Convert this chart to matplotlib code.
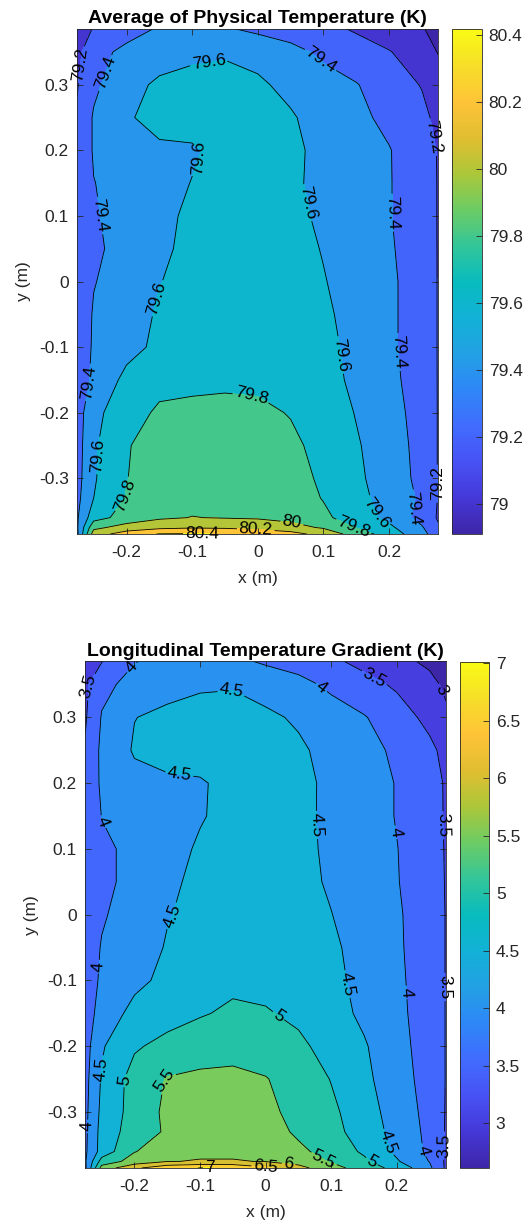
import numpy as np
import matplotlib
matplotlib.use("Agg")
import matplotlib.pyplot as plt
from matplotlib.colors import LinearSegmentedColormap, Normalize
from matplotlib.cm import ScalarMappable

plt.rcParams['font.family'] = ['Liberation Sans', 'DejaVu Sans']

# measurement grid (m)
x_m = [-0.275, -0.25, -0.2, -0.15, -0.1, -0.05, 0.0, 0.05, 0.1, 0.15, 0.2, 0.25, 0.275]
y_m = [-0.385, -0.375, -0.36, -0.33, -0.3, -0.25, -0.2, -0.15, -0.1, -0.05,
       0.0, 0.05, 0.1, 0.15, 0.2, 0.25, 0.3, 0.35, 0.385]

# average physical temperature (K), rows from bottom (y=-0.385) to top
avg_temp = [
    [79.36, 80.10, 80.30, 80.41, 80.415, 80.39, 80.36, 80.28, 80.12, 79.92, 79.70, 79.48, 79.26],
    [79.38, 79.95, 80.08, 80.15, 80.18, 80.17, 80.13, 80.06, 79.98, 79.79, 79.64, 79.42, 79.22],
    [79.38, 79.72, 79.88, 79.97, 80.005, 79.99, 79.98, 79.95, 79.84, 79.70, 79.55, 79.33, 79.18],
    [79.35, 79.60, 79.81, 79.92, 79.94, 79.95, 79.94, 79.90, 79.79, 79.66, 79.52, 79.37, 79.19],
    [79.33, 79.58, 79.795, 79.89, 79.91, 79.92, 79.91, 79.87, 79.77, 79.64, 79.50, 79.35, 79.19],
    [79.32, 79.57, 79.79, 79.86, 79.88, 79.89, 79.88, 79.84, 79.74, 79.62, 79.49, 79.34, 79.19],
    [79.30, 79.56, 79.69, 79.84, 79.85, 79.86, 79.84, 79.79, 79.72, 79.59, 79.46, 79.34, 79.19],
    [79.26, 79.45, 79.65, 79.72, 79.75, 79.76, 79.76, 79.74, 79.67, 79.56, 79.44, 79.33, 79.19],
    [79.24, 79.43, 79.54, 79.64, 79.69, 79.72, 79.73, 79.71, 79.65, 79.55, 79.43, 79.32, 79.19],
    [79.24, 79.42, 79.52, 79.62, 79.67, 79.70, 79.71, 79.69, 79.63, 79.54, 79.43, 79.32, 79.19],
    [79.24, 79.39, 79.50, 79.595, 79.65, 79.69, 79.70, 79.68, 79.61, 79.52, 79.43, 79.32, 79.19],
    [79.25, 79.36, 79.48, 79.57, 79.64, 79.68, 79.69, 79.67, 79.59, 79.49, 79.42, 79.31, 79.19],
    [79.24, 79.38, 79.48, 79.56, 79.63, 79.67, 79.69, 79.66, 79.56, 79.47, 79.41, 79.30, 79.19],
    [79.22, 79.395, 79.48, 79.54, 79.605, 79.66, 79.68, 79.64, 79.54, 79.47, 79.41, 79.30, 79.19],
    [79.22, 79.42, 79.50, 79.57, 79.58, 79.65, 79.67, 79.64, 79.55, 79.48, 79.41, 79.28, 79.19],
    [79.22, 79.42, 79.58, 79.66, 79.67, 79.68, 79.67, 79.62, 79.52, 79.45, 79.35, 79.25, 79.15],
    [79.19, 79.36, 79.54, 79.63, 79.66, 79.66, 79.63, 79.55, 79.48, 79.41, 79.30, 79.19, 79.10],
    [79.15, 79.33, 79.45, 79.52, 79.56, 79.58, 79.54, 79.46, 79.36, 79.28, 79.21, 79.10, 78.99],
    [79.12, 79.21, 79.32, 79.42, 79.45, 79.42, 79.36, 79.31, 79.25, 79.18, 79.10, 79.02, 78.91],
]

# longitudinal temperature gradient (K), rows from bottom to top
grad_temp = [
    [3.90, 5.70, 6.40, 6.85, 7.01, 6.98, 6.60, 6.15, 5.70, 5.25, 4.85, 4.10, 3.42],
    [3.95, 5.20, 5.70, 5.98, 6.03, 6.03, 5.98, 5.82, 5.45, 5.10, 4.55, 3.98, 3.42],
    [3.92, 4.70, 5.48, 5.75, 5.90, 5.90, 5.84, 5.60, 5.32, 4.92, 4.40, 3.90, 3.45],
    [3.90, 4.68, 5.25, 5.56, 5.78, 5.82, 5.72, 5.42, 5.14, 4.80, 4.32, 3.88, 3.46],
    [3.88, 4.62, 5.20, 5.60, 5.72, 5.74, 5.62, 5.35, 5.10, 4.72, 4.28, 3.85, 3.47],
    [3.85, 4.55, 5.20, 5.53, 5.60, 5.60, 5.52, 5.32, 4.98, 4.62, 4.20, 3.82, 3.48],
    [3.80, 4.45, 4.94, 5.15, 5.27, 5.35, 5.30, 5.10, 4.82, 4.55, 4.15, 3.80, 3.48],
    [3.75, 4.20, 4.65, 4.80, 4.96, 5.08, 5.04, 4.90, 4.70, 4.40, 4.10, 3.80, 3.48],
    [3.73, 4.08, 4.38, 4.62, 4.76, 4.90, 4.86, 4.80, 4.63, 4.35, 4.08, 3.79, 3.48],
    [3.72, 4.03, 4.30, 4.53, 4.65, 4.72, 4.76, 4.72, 4.58, 4.33, 4.06, 3.78, 3.48],
    [3.72, 3.95, 4.22, 4.48, 4.60, 4.68, 4.73, 4.68, 4.51, 4.27, 4.05, 3.78, 3.48],
    [3.70, 3.88, 4.15, 4.45, 4.56, 4.66, 4.72, 4.65, 4.44, 4.22, 4.02, 3.76, 3.47],
    [3.68, 3.92, 4.10, 4.35, 4.55, 4.64, 4.70, 4.62, 4.42, 4.20, 4.01, 3.75, 3.46],
    [3.62, 4.01, 4.28, 4.38, 4.47, 4.62, 4.70, 4.62, 4.40, 4.20, 3.98, 3.72, 3.45],
    [3.60, 4.08, 4.35, 4.43, 4.46, 4.62, 4.68, 4.60, 4.42, 4.20, 3.98, 3.70, 3.45],
    [3.55, 4.10, 4.55, 4.65, 4.68, 4.70, 4.66, 4.56, 4.38, 4.15, 3.92, 3.62, 3.35],
    [3.45, 4.03, 4.49, 4.60, 4.64, 4.64, 4.57, 4.45, 4.22, 4.03, 3.75, 3.35, 3.10],
    [3.40, 3.88, 4.15, 4.35, 4.45, 4.47, 4.35, 4.15, 3.90, 3.68, 3.42, 3.15, 2.90],
    [3.35, 3.48, 3.98, 4.15, 4.20, 4.12, 3.93, 3.80, 3.60, 3.35, 3.15, 2.90, 2.61],
]

avg_levels = [79.0, 79.2, 79.4, 79.6, 79.8, 80.0, 80.2, 80.4]
grad_levels = [3.0, 3.5, 4.0, 4.5, 5.0, 5.5, 6.0, 6.5, 7.0]
avg_ticks = ['79', '79.2', '79.4', '79.6', '79.8', '80', '80.2', '80.4']
grad_ticks = ['3', '3.5', '4', '4.5', '5', '5.5', '6', '6.5', '7']

x_ticks = [-0.2, -0.1, 0, 0.1, 0.2]
x_tick_labels = ['-0.2', '-0.1', '0', '0.1', '0.2']
y_ticks = [-0.3, -0.2, -0.1, 0, 0.1, 0.2, 0.3]
y_tick_labels = ['-0.3', '-0.2', '-0.1', '0', '0.1', '0.2', '0.3']

# where the contour labels sit
avg_label_xy = [(-0.262, 0.33), (-0.238, 0.32), (-0.075, 0.336), (0.1, 0.343), (0.268, 0.22),
                (-0.095, 0.19), (0.075, 0.12), (0.205, 0.105), (-0.245, 0.10),
                (-0.155, -0.025), (0.126, -0.112), (0.218, -0.107), (-0.262, -0.153),
                (-0.01, -0.178), (-0.243, -0.265), (-0.2, -0.326), (0.272, -0.308),
                (0.177, -0.354), (0.231, -0.344), (0.146, -0.374), (0.051, -0.372),
                (-0.003, -0.378), (-0.085, -0.383)]
grad_label_xy = [(-0.266, 0.347), (-0.201, 0.373), (-0.052, 0.34), (0.087, 0.348),
                 (0.166, 0.361), (0.264, 0.34), (-0.132, 0.212), (-0.251, 0.14),
                 (0.071, 0.136), (0.197, 0.125), (0.27, 0.136), (-0.147, 0.0),
                 (-0.254, -0.079), (0.128, -0.105), (0.218, -0.118), (0.272, -0.11),
                 (0.02, -0.153), (-0.248, -0.235), (-0.217, -0.252), (-0.155, -0.252),
                 (-0.269, -0.322), (0.19, -0.345), (0.239, -0.358), (0.267, -0.351),
                 (0.089, -0.371), (0.161, -0.376), (0.035, -0.378), (0.0, -0.381),
                 (-0.085, -0.384)]

# parula-like colormap
parula = LinearSegmentedColormap.from_list('parula', [
    (0.000, (0.242, 0.150, 0.660)),
    (0.067, (0.270, 0.215, 0.840)),
    (0.143, (0.281, 0.323, 0.958)),
    (0.214, (0.255, 0.425, 0.995)),
    (0.286, (0.179, 0.529, 0.968)),
    (0.357, (0.135, 0.630, 0.895)),
    (0.429, (0.069, 0.695, 0.839)),
    (0.500, (0.030, 0.735, 0.745)),
    (0.571, (0.200, 0.775, 0.600)),
    (0.643, (0.420, 0.800, 0.400)),
    (0.714, (0.672, 0.779, 0.223)),
    (0.786, (0.880, 0.745, 0.190)),
    (0.857, (0.997, 0.766, 0.220)),
    (0.929, (0.965, 0.870, 0.160)),
    (1.000, (0.977, 0.984, 0.081)),
], N=256)

GRAY = '0.15'
FS = 12.5

fig = plt.figure(figsize=(5.29, 12.24), dpi=100)


def panel(ax_rect, cb_rect, z, levels, tick_labels, title, label_xy):
    ax = fig.add_axes(ax_rect)
    cax = fig.add_axes(cb_rect)
    Z = np.array(z)
    vmin, vmax = Z.min(), Z.max()
    norm = Normalize(vmin, vmax)

    # MATLAB-style fill: each band takes the colour of its lower level
    fill_levels = [vmin] + [l for l in levels if vmin < l < vmax] + [vmax]
    colors = [parula(norm(l)) for l in fill_levels[:-1]]
    ax.contourf(x_m, y_m, Z, levels=fill_levels, colors=colors)
    cs = ax.contour(x_m, y_m, Z, levels=levels, colors='k', linewidths=0.6)
    labels = ax.clabel(cs, manual=label_xy, inline=True, fmt='%g', fontsize=FS,
                       inline_spacing=2, colors='k')
    for t in labels:
        t.set_clip_on(False)

    ax.set_xlim(-0.275, 0.275)
    ax.set_ylim(-0.385, 0.385)
    ax.set_xticks(x_ticks)
    ax.set_xticklabels(x_tick_labels)
    ax.set_yticks(y_ticks)
    ax.set_yticklabels(y_tick_labels)
    ax.tick_params(direction='in', length=4, width=0.6, top=True, right=True,
                   colors=GRAY, labelsize=FS)
    ax.tick_params(axis='x', pad=8)
    ax.tick_params(axis='y', pad=6)
    for s in ax.spines.values():
        s.set_linewidth(0.6)
        s.set_color(GRAY)
    ax.set_xlabel('x (m)', fontsize=FS, color=GRAY, labelpad=8)
    ax.set_ylabel('y (m)', fontsize=FS, color=GRAY, labelpad=6)
    ax.set_title(title, fontsize=14, fontweight='bold', color='k', pad=4)

    cb = fig.colorbar(ScalarMappable(norm=norm, cmap=parula), cax=cax)
    cb.set_ticks(levels)
    cb.set_ticklabels(tick_labels)
    cax.tick_params(direction='in', length=4, width=0.6, colors=GRAY,
                    labelsize=FS, pad=5)
    cb.outline.set_linewidth(0.6)
    cb.outline.set_edgecolor(GRAY)


panel([0.1461, 0.5637, 0.6824, 0.4126], [0.8550, 0.5637, 0.0556, 0.4122],
      avg_temp, avg_levels, avg_ticks,
      'Average of Physical Temperature (K)', avg_label_xy)
panel([0.1612, 0.0458, 0.6820, 0.4138], [0.8699, 0.0458, 0.0543, 0.4134],
      grad_temp, grad_levels, grad_ticks,
      'Longitudinal Temperature Gradient (K)', grad_label_xy)

fig.savefig('out.png', dpi=100)
